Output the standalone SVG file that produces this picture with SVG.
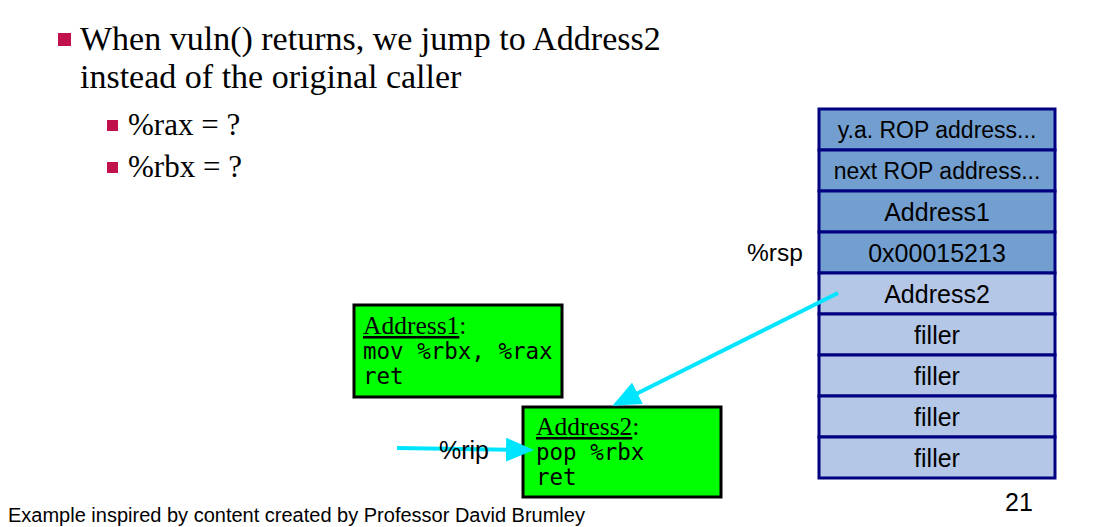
<svg xmlns="http://www.w3.org/2000/svg" width="1097" height="527" viewBox="0 0 1097 527">
<style>
.serif{font-family:"Liberation Serif",serif;fill:#000}
.sans{font-family:"Liberation Sans",Arial,sans-serif;fill:#000}
.mono{font-family:"DejaVu Sans Mono","Liberation Mono",monospace;font-size:22.5px;fill:#000}
.dark{fill:#729fcf;stroke:#000080;stroke-width:3}
.light{fill:#b4c7e7;stroke:#000080;stroke-width:3}
.cell{font-family:"Liberation Sans",Arial,sans-serif;font-size:25px;text-anchor:middle;fill:#000}
.cells{font-size:23px}
.code{fill:#00ff00;stroke:#000;stroke-width:3}
.bul{fill:#c0114d}
.conn{stroke:#00e5ff;stroke-width:4;fill:none}
</style>
<defs>
<marker id="ah" markerWidth="7" markerHeight="6" refX="6" refY="3" orient="auto" markerUnits="strokeWidth">
<path d="M0,0 L7,3 L0,6 Z" fill="#00e5ff"/>
</marker>
</defs>
<rect width="1097" height="527" fill="#fff"/>
<g id="text">
<rect class="bul" x="58" y="33" width="13" height="13"/>
<text class="serif" x="80" y="50" font-size="34">When vuln() returns, we jump to Address2</text>
<text class="serif" x="80" y="88" font-size="34">instead of the original caller</text>
<rect class="bul" x="107" y="120" width="11" height="11"/>
<text class="serif" x="128" y="135" font-size="31">%rax = ?</text>
<rect class="bul" x="107" y="162" width="11" height="11"/>
<text class="serif" x="128" y="177" font-size="31">%rbx = ?</text>
<text class="sans" x="8" y="522" font-size="20">Example inspired by content created by Professor David Brumley</text>
<text class="sans" x="1005" y="511" font-size="25">21</text>
<text class="sans" x="747" y="261" font-size="24.5">%rsp</text>
</g>
<g id="stack">
<rect class="dark" x="819" y="109" width="236" height="41"/>
<text class="cell cells" x="937" y="138">y.a. ROP address...</text>
<rect class="dark" x="819" y="150" width="236" height="41"/>
<text class="cell cells" x="937" y="179">next ROP address...</text>
<rect class="dark" x="819" y="191" width="236" height="41"/>
<text class="cell" x="937" y="221">Address1</text>
<rect class="dark" x="819" y="232" width="236" height="41"/>
<text class="cell" x="937" y="262">0x00015213</text>
<rect class="light" x="819" y="273" width="236" height="41"/>
<text class="cell" x="937" y="303">Address2</text>
<rect class="light" x="819" y="314" width="236" height="41"/>
<text class="cell" x="937" y="344">filler</text>
<rect class="light" x="819" y="355" width="236" height="41"/>
<text class="cell" x="937" y="385">filler</text>
<rect class="light" x="819" y="396" width="236" height="41"/>
<text class="cell" x="937" y="426">filler</text>
<rect class="light" x="819" y="437" width="236" height="41"/>
<text class="cell" x="937" y="467">filler</text>
</g>
<g id="addr1">
<rect class="code" x="354" y="305" width="208" height="92"/>
<text class="serif" x="363" y="334" font-size="25.5"><tspan text-decoration="underline">Address1</tspan>:</text>
<text class="mono" x="363" y="359">mov %rbx, %rax</text>
<text class="mono" x="363" y="384">ret</text>
</g>
<g id="addr2">
<rect class="code" x="523" y="407" width="198" height="90"/>
<text class="serif" x="536" y="435" font-size="25.5"><tspan text-decoration="underline">Address2</tspan>:</text>
<text class="mono" x="536" y="460">pop %rbx</text>
<text class="mono" x="536" y="485">ret</text>
</g>
<g id="connectors">
<line class="conn" x1="838" y1="293" x2="616" y2="404" marker-end="url(#ah)"/>
<line class="conn" x1="397" y1="448" x2="530" y2="450" marker-end="url(#ah)"/>
</g>
<text class="sans" x="439" y="459" font-size="25">%rip</text>
</svg>
